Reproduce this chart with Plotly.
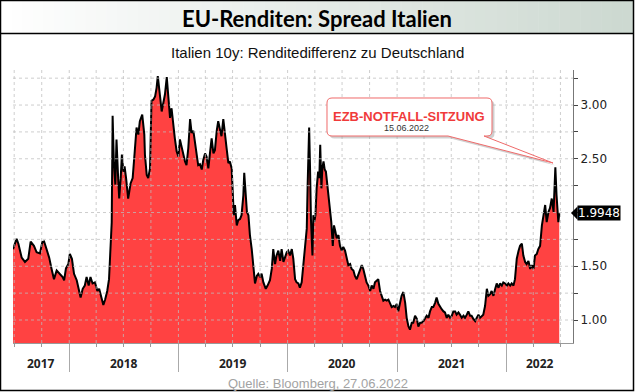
import plotly.graph_objects as go

# ---------------- data ----------------
dates = [
    "2017-06-27", "2017-07-09", "2017-07-15", "2017-07-26", "2017-08-06", "2017-08-17", "2017-08-25",
    "2017-09-05", "2017-09-14", "2017-09-25", "2017-10-03", "2017-10-09", "2017-10-17", "2017-10-26",
    "2017-11-03", "2017-11-11", "2017-11-20", "2017-12-01", "2017-12-10", "2017-12-15", "2017-12-21",
    "2017-12-29", "2018-01-03", "2018-01-10", "2018-01-17", "2018-01-26", "2018-02-02", "2018-02-08",
    "2018-02-15", "2018-02-22", "2018-02-28", "2018-03-07", "2018-03-13", "2018-03-20", "2018-03-28",
    "2018-04-05", "2018-04-11", "2018-04-19", "2018-04-25", "2018-05-01", "2018-05-08", "2018-05-14",
    "2018-05-19", "2018-05-23", "2018-05-26", "2018-05-30", "2018-06-04", "2018-06-08", "2018-06-13",
    "2018-06-17", "2018-06-22", "2018-06-26", "2018-07-01", "2018-07-05", "2018-07-10", "2018-07-17",
    "2018-07-25", "2018-08-01", "2018-08-08", "2018-08-14", "2018-08-20", "2018-08-25", "2018-09-02",
    "2018-09-09", "2018-09-11", "2018-09-17", "2018-09-22", "2018-09-28", "2018-10-03", "2018-10-09",
    "2018-10-15", "2018-10-20", "2018-10-24", "2018-10-28", "2018-11-01", "2018-11-06", "2018-11-11",
    "2018-11-17", "2018-11-23", "2018-11-28", "2018-12-04", "2018-12-09", "2018-12-15", "2018-12-20",
    "2018-12-26", "2019-01-01", "2019-01-06", "2019-01-12", "2019-01-17", "2019-01-23", "2019-01-28",
    "2019-02-03", "2019-02-09", "2019-02-14", "2019-02-20", "2019-02-25", "2019-03-03", "2019-03-08",
    "2019-03-14", "2019-03-20", "2019-03-25", "2019-03-31", "2019-04-05", "2019-04-11", "2019-04-16",
    "2019-04-22", "2019-04-28", "2019-05-03", "2019-05-09", "2019-05-14", "2019-05-20", "2019-05-25",
    "2019-05-31", "2019-06-06", "2019-06-11", "2019-06-17", "2019-06-22", "2019-06-28", "2019-07-01",
    "2019-07-05", "2019-07-09", "2019-07-15", "2019-07-20", "2019-07-26", "2019-07-31", "2019-08-06",
    "2019-08-09", "2019-08-14", "2019-08-18", "2019-08-23", "2019-08-28", "2019-09-03", "2019-09-08",
    "2019-09-14", "2019-09-20", "2019-09-25", "2019-10-01", "2019-10-06", "2019-10-12", "2019-10-20",
    "2019-10-26", "2019-11-03", "2019-11-09", "2019-11-14", "2019-11-20", "2019-11-25", "2019-12-01",
    "2019-12-07", "2019-12-12", "2019-12-18", "2019-12-23", "2019-12-29", "2020-01-03", "2020-01-09",
    "2020-01-15", "2020-01-20", "2020-01-26", "2020-01-31", "2020-02-06", "2020-02-11", "2020-02-17",
    "2020-02-23", "2020-02-28", "2020-03-05", "2020-03-08", "2020-03-13", "2020-03-16", "2020-03-19",
    "2020-03-24", "2020-03-27", "2020-03-30", "2020-04-03", "2020-04-07", "2020-04-12", "2020-04-16",
    "2020-04-19", "2020-04-23", "2020-04-26", "2020-04-30", "2020-05-04", "2020-05-08", "2020-05-13",
    "2020-05-17", "2020-05-22", "2020-05-26", "2020-05-31", "2020-06-04", "2020-06-09", "2020-06-13",
    "2020-06-19", "2020-06-24", "2020-06-30", "2020-07-05", "2020-07-11", "2020-07-17", "2020-07-22",
    "2020-07-28", "2020-08-02", "2020-08-08", "2020-08-13", "2020-08-19", "2020-08-25", "2020-08-30",
    "2020-09-05", "2020-09-10", "2020-09-16", "2020-09-21", "2020-09-27", "2020-10-03", "2020-10-08",
    "2020-10-14", "2020-10-19", "2020-10-25", "2020-10-30", "2020-11-05", "2020-11-11", "2020-11-16",
    "2020-11-22", "2020-11-27", "2020-12-03", "2020-12-08", "2020-12-14", "2020-12-20", "2020-12-25",
    "2020-12-31", "2021-01-05", "2021-01-11", "2021-01-16", "2021-01-22", "2021-01-28", "2021-02-02",
    "2021-02-08", "2021-02-13", "2021-02-19", "2021-02-24", "2021-03-02", "2021-03-08", "2021-03-13",
    "2021-03-19", "2021-03-24", "2021-03-30", "2021-04-04", "2021-04-10", "2021-04-16", "2021-04-21",
    "2021-04-27", "2021-05-02", "2021-05-08", "2021-05-13", "2021-05-19", "2021-05-25", "2021-05-30",
    "2021-06-05", "2021-06-10", "2021-06-16", "2021-06-21", "2021-06-27", "2021-07-03", "2021-07-08",
    "2021-07-14", "2021-07-19", "2021-07-25", "2021-07-30", "2021-08-05", "2021-08-11", "2021-08-16",
    "2021-08-22", "2021-08-27", "2021-09-02", "2021-09-07", "2021-09-13", "2021-09-19", "2021-09-24",
    "2021-09-30", "2021-10-05", "2021-10-11", "2021-10-16", "2021-10-22", "2021-10-28", "2021-11-02",
    "2021-11-08", "2021-11-13", "2021-11-19", "2021-11-25", "2021-11-30", "2021-12-06", "2021-12-11",
    "2021-12-17", "2021-12-22", "2021-12-28", "2022-01-03", "2022-01-08", "2022-01-14", "2022-01-19",
    "2022-01-25", "2022-01-30", "2022-02-05", "2022-02-11", "2022-02-16", "2022-02-22", "2022-02-27",
    "2022-03-05", "2022-03-10", "2022-03-16", "2022-03-22", "2022-03-27", "2022-04-02", "2022-04-07",
    "2022-04-13", "2022-04-18", "2022-04-24", "2022-04-30", "2022-05-05", "2022-05-11", "2022-05-16",
    "2022-05-22", "2022-05-27", "2022-06-02", "2022-06-08", "2022-06-11", "2022-06-14", "2022-06-18",
    "2022-06-21", "2022-06-24", "2022-06-27",
]
spread = [
    1.66, 1.755, 1.71, 1.58, 1.54, 1.57, 1.73,
    1.69, 1.63, 1.62, 1.725, 1.73, 1.66, 1.58,
    1.475, 1.38, 1.46, 1.43, 1.40, 1.37, 1.48,
    1.52, 1.615, 1.57, 1.43, 1.37, 1.29, 1.21,
    1.29, 1.32, 1.40, 1.32, 1.40, 1.34, 1.35,
    1.27, 1.29, 1.19, 1.14, 1.19, 1.27, 1.38,
    1.66, 1.91, 2.90, 2.475, 2.26, 2.68, 2.35,
    2.13, 2.32, 2.54, 2.38, 2.43, 2.32, 2.13,
    2.27, 2.32, 2.57, 2.79, 2.725, 2.85, 2.91,
    2.725, 2.54, 2.35, 2.32, 2.41, 3.04, 3.05,
    3.08, 3.16, 3.27, 3.13, 3.07, 2.94, 3.01,
    3.10, 3.26, 3.07, 2.88, 2.97, 2.79, 2.69,
    2.57, 2.52, 2.68, 2.60, 2.55, 2.475, 2.44,
    2.60, 2.87, 2.74, 2.76, 2.66, 2.54, 2.44,
    2.45, 2.40, 2.49, 2.55, 2.52, 2.41, 2.54,
    2.69, 2.55, 2.58, 2.76, 2.85, 2.77, 2.71,
    2.87, 2.68, 2.60, 2.46, 2.475, 2.41, 2.225,
    1.975, 2.07, 1.88, 1.93, 1.94, 1.975, 2.16,
    2.37, 2.16, 2.005, 1.975, 1.79, 1.66, 1.54,
    1.34, 1.41, 1.43, 1.40, 1.43, 1.35, 1.29,
    1.32, 1.37, 1.475, 1.66, 1.52, 1.60, 1.645,
    1.55, 1.66, 1.54, 1.58, 1.63, 1.645, 1.60,
    1.66, 1.57, 1.38, 1.35, 1.34, 1.30, 1.35,
    1.54, 1.725, 1.85, 2.26, 2.79, 2.41, 1.94,
    1.60, 1.975, 1.91, 1.975, 2.225, 2.38, 2.32,
    2.63, 2.225, 2.41, 2.475, 2.40, 2.38, 2.26,
    2.13, 2.04, 1.91, 1.69, 1.88, 1.82, 1.76,
    1.79, 1.69, 1.645, 1.68, 1.645, 1.57, 1.51,
    1.52, 1.475, 1.46, 1.41, 1.38, 1.43, 1.475,
    1.51, 1.475, 1.40, 1.35, 1.32, 1.27, 1.32,
    1.29, 1.35, 1.37, 1.38, 1.27, 1.225, 1.18,
    1.19, 1.18, 1.19, 1.16, 1.12, 1.13, 1.12,
    1.15, 1.08, 1.16, 1.225, 1.26, 1.16, 1.02,
    0.94, 0.91, 0.975, 0.975, 1.04, 1.01, 0.94,
    0.975, 0.975, 0.99, 1.02, 1.04, 1.02, 1.08,
    1.12, 1.12, 1.16, 1.21, 1.15, 1.12, 1.10,
    1.08, 1.07, 1.02, 1.05, 1.02, 1.04, 1.08,
    1.08, 1.05, 1.07, 1.05, 1.02, 1.04, 1.02,
    1.05, 1.08, 1.04, 1.04, 1.01, 0.99, 1.02,
    1.05, 1.02, 1.04, 1.05, 1.13, 1.29, 1.225,
    1.24, 1.27, 1.225, 1.29, 1.34, 1.30, 1.34,
    1.32, 1.35, 1.34, 1.32, 1.34, 1.32, 1.34,
    1.32, 1.38, 1.57, 1.645, 1.69, 1.71, 1.60,
    1.54, 1.52, 1.55, 1.475, 1.51, 1.475, 1.60,
    1.615, 1.66, 1.69, 1.88, 1.975, 2.07, 1.91,
    2.005, 2.04, 2.13, 2.005, 2.16, 2.42, 2.16,
    2.04, 1.91, 1.9948,
]

year_labels = ["2017", "2018", "2019", "2020", "2021", "2022"]
year_label_pos = ["2017-09-28", "2018-07-02", "2019-07-02", "2020-07-02", "2021-07-02", "2022-04-23"]
year_starts = ["2018-01-01", "2019-01-01", "2020-01-01", "2021-01-01", "2022-01-01"]
y_tickvals = [1.0, 1.5, 2.5, 3.0]
y_gridvals = [1.0, 1.25, 1.5, 1.75, 2.0, 2.25, 2.5, 2.75, 3.0, 3.25]
x_gridvals = ["2017-07-01", "2017-10-01", "2018-01-01", "2018-04-01", "2018-07-01", "2018-10-01",
              "2019-01-01", "2019-04-01", "2019-07-01", "2019-10-01", "2020-01-01", "2020-04-01",
              "2020-07-01", "2020-10-01", "2021-01-01", "2021-04-01", "2021-07-01", "2021-10-01",
              "2022-01-01", "2022-04-01", "2022-07-01"]
x_range = ["2017-06-27", "2022-08-12"]
y_range = [0.786, 3.326]

title = "EU-Renditen: Spread Italien"
subtitle = "Italien 10y: Renditedifferenz zu Deutschland"
source = "Quelle: Bloomberg, 27.06.2022"
callout_title = "EZB-NOTFALL-SITZUNG"
callout_date = "15.06.2022"

# ---------------- layout geometry ----------------
W, H = 635, 392
ML, MR, MT, MB = 13, 62, 70, 49
PW = W - ML - MR
PH = H - MT - MB


def px(x):
    return (x - ML) / PW


def py(y):
    return 1 - (y - MT) / PH


def path_from(points):
    s = ""
    for cmd, pts in points:
        s += cmd + " " + " ".join(f"{px(a):.5f},{py(b):.5f}" for a, b in pts) + " "
    return s + "Z"


fig = go.Figure()
fig.add_trace(go.Scatter(
    x=dates, y=spread, mode="lines",
    line=dict(color="black", width=2),
    fill="tozeroy", fillcolor="#ff4242",
    hoverinfo="skip", showlegend=False,
))

shapes = []
# grid (dotted, drawn over the fill as in the reference)
for v in y_gridvals:
    shapes.append(dict(type="line", xref="paper", yref="y", x0=0, x1=1, y0=v, y1=v,
                       line=dict(color="rgba(190,190,190,0.75)", width=1, dash="dot"), layer="above"))
for d in x_gridvals:
    shapes.append(dict(type="line", xref="x", yref="paper", x0=d, x1=d, y0=0, y1=1,
                       line=dict(color="rgba(190,190,190,0.75)", width=1, dash="dot"), layer="above"))

# title band gradient
n = 60
x_left, x_right = 1, 633
for i in range(n):
    t = i / (n - 1)
    c = (int(255 - t * (255 - 205)), int(255 - t * (255 - 217)), int(255 - t * (255 - 209)))
    xa = x_left + (x_right - x_left) * i / n
    xb = x_left + (x_right - x_left) * (i + 1) / n + 0.5
    shapes.append(dict(type="rect", xref="paper", yref="paper", x0=px(xa), x1=px(xb),
                       y0=py(33), y1=py(1), fillcolor=f"rgb{c}", line=dict(width=0), layer="below"))
# title separator and frame
shapes.append(dict(type="line", xref="paper", yref="paper", x0=px(0), x1=px(634), y0=py(33.5), y1=py(33.5),
                   line=dict(color="black", width=1.5)))
shapes.append(dict(type="rect", xref="paper", yref="paper", x0=px(0.5), x1=px(633.5), y0=py(0.5), y1=py(390.5),
                   line=dict(color="black", width=1.5), fillcolor="rgba(0,0,0,0)"))

# callout
r = 5
bx0, bx1, by0, by1 = 327, 492, 98, 136
wr, wl, tip = 484, 448, (553, 163)


def callout_path(dx=0, dy=0):
    pts = [
        ("M", [(bx0 + r + dx, by0 + dy)]),
        ("L", [(bx1 - r + dx, by0 + dy)]),
        ("Q", [(bx1 + dx, by0 + dy), (bx1 + dx, by0 + r + dy)]),
        ("L", [(bx1 + dx, by1 - r + dy)]),
        ("Q", [(bx1 + dx, by1 + dy), (bx1 - r + dx, by1 + dy)]),
        ("L", [(wr + dx, by1 + dy)]),
        ("L", [(tip[0] + dx, tip[1] + dy)]),
        ("L", [(wl + dx, by1 + dy)]),
        ("L", [(bx0 + r + dx, by1 + dy)]),
        ("Q", [(bx0 + dx, by1 + dy), (bx0 + dx, by1 - r + dy)]),
        ("L", [(bx0 + dx, by0 + r + dy)]),
        ("Q", [(bx0 + dx, by0 + dy), (bx0 + r + dx, by0 + dy)]),
    ]
    return path_from(pts)


shapes.append(dict(type="path", xref="paper", yref="paper", path=callout_path(2.5, 2.5),
                   fillcolor="rgba(150,150,150,0.45)", line=dict(width=0), layer="above"))
shapes.append(dict(type="path", xref="paper", yref="paper", path=callout_path(),
                   fillcolor="white", line=dict(color="#ef6a6a", width=1), layer="above"))

# last-value marker pointer
last = spread[-1]
shapes.append(dict(type="path", xref="paper", yref="y",
                   path=f"M {px(571):.5f},{last} L {px(577.5):.5f},{last + 0.062} L {px(577.5):.5f},{last - 0.062} Z",
                   fillcolor="black", line=dict(width=0), layer="above"))

annotations = [
    dict(text=f"<b>{title}</b>", xref="paper", yref="paper", x=px(317), y=py(18), showarrow=False,
         font=dict(family="Lato", size=22, color="black"), xanchor="center", yanchor="middle"),
    dict(text=subtitle, xref="paper", yref="paper", x=px(317), y=py(52), showarrow=False,
         font=dict(family="Liberation Sans", size=15, color="#111"), xanchor="center", yanchor="middle"),
    dict(text=source, xref="paper", yref="paper", x=px(318), y=py(383), showarrow=False,
         font=dict(family="Liberation Sans", size=13, color="#a3a3a3"), xanchor="center", yanchor="middle"),
    dict(text=f"<b>{callout_title}</b>", xref="paper", yref="paper", x=px(409), y=py(116), showarrow=False,
         font=dict(family="Liberation Sans", size=13, color="#f03a3a"), xanchor="center", yanchor="middle"),
    dict(text=callout_date, xref="paper", yref="paper", x=px(406), y=py(127.5), showarrow=False,
         font=dict(family="Liberation Sans", size=9, color="#333"), xanchor="center", yanchor="middle"),
    dict(text=f"{last:.4f}", xref="paper", yref="y", x=px(577), y=last, showarrow=False,
         font=dict(family="DejaVu Sans", size=12, color="white"), bgcolor="black",
         xanchor="left", yanchor="middle", borderpad=0),
]
for lab, pos in zip(year_labels, year_label_pos):
    annotations.append(dict(text=f"<b>{lab}</b>", xref="x", yref="paper", x=pos, y=py(363), showarrow=False,
                            font=dict(family="Noto Sans", size=12, color="#222"),
                            xanchor="center", yanchor="middle"))

fig.update_layout(
    width=W, height=H,
    margin=dict(l=ML, r=MR, t=MT, b=MB, pad=0),
    paper_bgcolor="white", plot_bgcolor="white",
    shapes=shapes, annotations=annotations,
    showlegend=False,
    xaxis=dict(
        type="date", range=x_range, tickmode="array", tickvals=year_starts, showticklabels=False,
        ticks="outside", ticklen=28, tickcolor="#aaaaaa", tickwidth=1,
        showline=True, linecolor="#999999", linewidth=1, showgrid=False, zeroline=False,
        minor=dict(tickmode="array", tickvals=x_gridvals, ticks="outside", ticklen=3,
                   tickcolor="#999999", showgrid=False),
    ),
    yaxis=dict(
        side="right", range=y_range, tickmode="array", tickvals=y_tickvals, tickformat=".2f",
        ticks="outside", ticklen=4, tickcolor="#444444", showline=True, linecolor="#777777", linewidth=1,
        showgrid=False, zeroline=False,
        tickfont=dict(family="DejaVu Sans", size=12, color="#222"),
        minor=dict(tickmode="array", tickvals=y_gridvals, ticks="outside", ticklen=4,
                   tickcolor="#444444", showgrid=False),
    ),
)

fig.write_html(
    "out.html",
    config={"displayModeBar": False},
    post_script="document.body.style.margin='0';document.body.style.overflow='hidden';",
)
